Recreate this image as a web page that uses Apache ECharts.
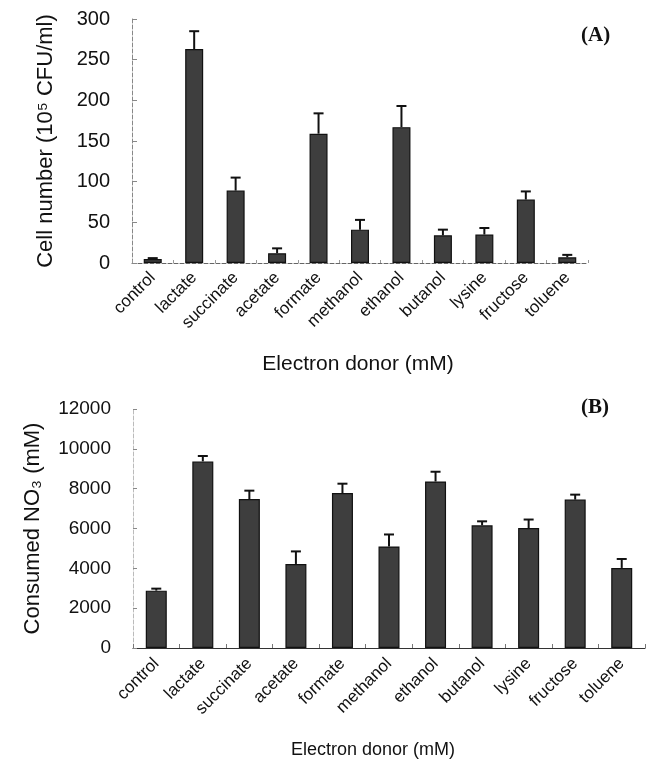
<!DOCTYPE html>
<html>
<head>
<meta charset="utf-8">
<script src="https://cdn.jsdelivr.net/npm/echarts@6/dist/echarts.min.js"></script>
<style>
html,body{margin:0;padding:0;background:#fff;}
#chart{width:653px;height:760px;}
</style>
</head>
<body>
<div id="chart"></div>
<script>
// ---- data ----
const donors = ['control','lactate','succinate','acetate','formate','methanol','ethanol','butanol','lysine','fructose','toluene'];
const cellMean = [5, 263, 89, 12, 159, 41, 167, 34, 35, 78, 7];
const cellErr  = [1, 22, 16, 6, 25, 12, 26, 7, 8, 10, 3];
const no3Mean  = [2880, 9370, 7480, 4220, 7780, 5100, 8360, 6160, 6020, 7450, 4020];
const no3Err   = [100, 270, 420, 630, 470, 600, 490, 200, 430, 250, 450];
const cellTicks = [0, 50, 100, 150, 200, 250, 300];
const no3Ticks  = [0, 2000, 4000, 6000, 8000, 10000, 12000];

const FONT = '"Liberation Sans", Arial, sans-serif';
const SERIF = '"Liberation Serif", "Times New Roman", serif';

function errItems(mean, err){
  return mean.map((m, i) => [i, m, m + err[i]]);
}
function errRender(capHalf){
  return function(params, api){
    const x = api.value(0);
    const p0 = api.coord([x, api.value(1)]);
    const p1 = api.coord([x, api.value(2)]);
    const st = {stroke:'#111', lineWidth:2};
    return {type:'group', children:[
      {type:'line', shape:{x1:p0[0], y1:p0[1], x2:p1[0], y2:p1[1]}, style:st},
      {type:'line', shape:{x1:p1[0]-capHalf, y1:p1[1], x2:p1[0]+capHalf, y2:p1[1]}, style:st}
    ]};
  };
}

const chart = echarts.init(document.getElementById('chart'), null, {renderer:'canvas'});
chart.setOption({
  animation:false,
  backgroundColor:'#fff',
  title:[
    {text:'(A)', left:576, top:20, textStyle:{fontFamily:SERIF, fontSize:21, fontWeight:'bold', color:'#111'}},
    {text:'(B)', left:576, top:392, textStyle:{fontFamily:SERIF, fontSize:21, fontWeight:'bold', color:'#111'}}
  ],
  grid:[
    {left:132, top:19, width:456, height:244},
    {left:133, top:409, width:512, height:239}
  ],
  xAxis:[
    {type:'category', gridIndex:0, data:donors,
     name:'Electron donor (mM)', nameLocation:'middle', nameGap:91,
     nameTextStyle:{fontFamily:FONT, fontSize:21, color:'#111', padding:[0,4,0,0]},
     axisLine:{lineStyle:{color:'#666', width:1, type:'dashed'}},
     axisTick:{show:true, inside:true, length:3, lineStyle:{color:'#999'}},
     axisLabel:{interval:0, rotate:45, margin:12, fontFamily:FONT, fontSize:17, color:'#111'}},
    {type:'category', gridIndex:1, data:donors,
     name:'Electron donor (mM)', nameLocation:'middle', nameGap:93,
     nameTextStyle:{fontFamily:FONT, fontSize:18, color:'#111', padding:[0,32,0,0]},
     axisLine:{lineStyle:{color:'#333', width:1.2}},
     axisTick:{show:true, inside:true, length:4, lineStyle:{color:'#777'}},
     axisLabel:{interval:0, rotate:45, margin:13, fontFamily:FONT, fontSize:17, color:'#111'}}
  ],
  yAxis:[
    {type:'value', gridIndex:0, min:cellTicks[0], max:cellTicks[cellTicks.length-1], interval:50,
     name:'Cell number (10\u2075 CFU/ml)', nameLocation:'middle', nameGap:75,
     nameTextStyle:{fontFamily:FONT, fontSize:22, color:'#111'},
     axisLine:{show:true, lineStyle:{color:'#888', width:1, type:'dashed'}},
     axisTick:{show:true, inside:true, length:5, lineStyle:{color:'#888'}},
     splitLine:{show:false},
     axisLabel:{margin:22, fontFamily:FONT, fontSize:20, color:'#111', formatter:v=>String(v)}},
    {type:'value', gridIndex:1, min:no3Ticks[0], max:no3Ticks[no3Ticks.length-1], interval:2000,
     name:'Consumed NO\u2083 (mM)', nameLocation:'middle', nameGap:89,
     nameTextStyle:{fontFamily:FONT, fontSize:22, color:'#111'},
     axisLine:{show:true, lineStyle:{color:'#bbb', width:1, type:'dashed'}},
     axisTick:{show:true, inside:true, length:4, lineStyle:{color:'#888'}},
     splitLine:{show:false},
     axisLabel:{margin:22, fontFamily:FONT, fontSize:19, color:'#111', formatter:v=>String(v)}}
  ],
  series:[
    {type:'bar', xAxisIndex:0, yAxisIndex:0, data:cellMean, barWidth:18,
     itemStyle:{color:'#3e3e3e', borderColor:'#111', borderWidth:1.2}},
    {type:'custom', xAxisIndex:0, yAxisIndex:0, data:errItems(cellMean, cellErr),
     renderItem:errRender(5), z:1},
    {type:'bar', xAxisIndex:1, yAxisIndex:1, data:no3Mean, barWidth:21,
     itemStyle:{color:'#3e3e3e', borderColor:'#111', borderWidth:1.2}},
    {type:'custom', xAxisIndex:1, yAxisIndex:1, data:errItems(no3Mean, no3Err),
     renderItem:errRender(5), z:1}
  ]
});
</script>
</body>
</html>
